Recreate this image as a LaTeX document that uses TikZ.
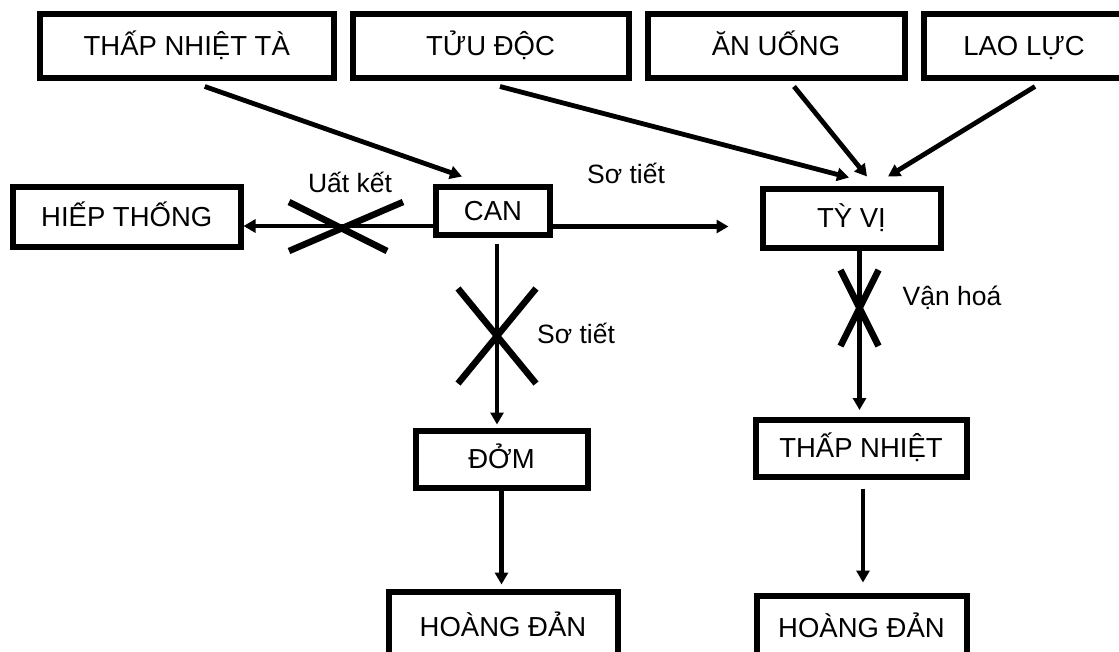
\documentclass[tikz,border=0pt]{standalone}
\usepackage{fontspec}
\setmainfont{Liberation Sans}
\usetikzlibrary{arrows.meta,calc}
\begin{document}
\begin{tikzpicture}[x=1pt,y=-1pt,
  box/.style={draw, line width=6pt, inner sep=0pt, text height=19.5pt, text depth=0pt,
    font=\fontsize{27.5}{32}\selectfont, align=center},
  arr/.style={line width=4.8pt, -{Triangle[length=12pt,width=13pt]}},
  cross/.style={line width=6.5pt},
  lbl/.style={font=\fontsize{26.5}{31}\selectfont, inner sep=0pt, anchor=base}]
\useasboundingbox (0,0) rectangle (1119,651);
\clip (0,0) rectangle (1119,651);
\fill[white] (0,0) rectangle (1119,651);

% top row
\node[box, minimum width=293.5pt, minimum height=64pt] (tnt) at (186.75,46) {THẤP NHIỆT TÀ};
\node[box, minimum width=276pt, minimum height=64pt] (tuu) at (490.5,46) {TỬU ĐỘC};
\node[box, minimum width=257pt, minimum height=64pt] (an) at (776,46) {ĂN UỐNG};
\node[box, minimum width=201pt, minimum height=64pt] (lao) at (1024,46) {LAO LỰC};

% middle row
\node[box, minimum width=227.5pt, minimum height=60pt] (hiep) at (126.75,216.5) {HIẾP THỐNG};
\node[box, minimum width=114pt, minimum height=48pt] (can) at (493,211) {CAN};
\node[box, minimum width=178pt, minimum height=59pt] (ty) at (851.5,218) {TỲ VỊ};

% lower rows
\node[box, minimum width=172pt, minimum height=57pt] (dom) at (501.5,459) {ĐỞM};
\node[box, minimum width=211pt, minimum height=57pt] (tn) at (861,448) {THẤP NHIỆT};
\node[box, minimum width=229pt, minimum height=70pt] (hd1) at (503,626.5) {HOÀNG ĐẢN};
\node[box, minimum width=210pt, minimum height=65pt] (hd2) at (861.5,628) {HOÀNG ĐẢN};

% top arrows
\draw[arr] ($(tnt.south)+(18,5.5)$) -- ($(can.north)+(-31,-7.5)$);
\draw[arr] ($(tuu.south)+(9.5,5.5)$) -- ($(ty.north)+(-2.5,-8)$);
\draw[arr] ($(an.south)+(18,5.5)$) -- ($(ty.north)+(15.5,-9)$);
\draw[arr] ($(lao.south)+(11,5.5)$) -- ($(ty.north)+(36.5,-9)$);

% horizontal arrows from CAN
\coordinate (cL) at ($(can.west)+(0,15)$);
\coordinate (cR) at ($(can.east)+(0,15.5)$);
\draw[arr] (cL) -- (cL -| hiep.east);
\draw[arr, shorten >=31pt] (cR) -- (cR -| ty.west);

% vertical arrows
\coordinate (cB) at ($(can.south)+(4,5.5)$);
\draw[arr, shorten >=3pt] (cB) -- (cB |- dom.north);
\draw[arr, shorten >=4pt] (dom.south) -- (dom.south |- hd1.north);
\coordinate (tB) at ($(ty.south)+(8,0)$);
\draw[arr, shorten >=6.5pt] (tB) -- (tB |- tn.north);
\coordinate (nB) at ($(tn.south)+(2,9)$);
\draw[arr, shorten >=10pt] (nB) -- (nB |- hd2.north);

% crosses
\coordinate (x1) at (341,226);
\coordinate (x2) at (497,336);
\coordinate (x3) at (859.5,308);
\draw[cross] ($(x1)+(-52,-24)$) -- ($(x1)+(46,25)$);
\draw[cross] ($(x1)+(-52,25)$) -- ($(x1)+(62,-24)$);
\draw[cross] ($(x2)+(-39,-47.5)$) -- ($(x2)+(39,47.5)$);
\draw[cross] ($(x2)+(-39,47.5)$) -- ($(x2)+(39,-47.5)$);
\draw[cross] ($(x3)+(-19,-38)$) -- ($(x3)+(19,38)$);
\draw[cross] ($(x3)+(-19,38)$) -- ($(x3)+(19,-38)$);

% labels
\node[lbl] (l1) at (350,192) {Uất kết};
\node[lbl] (l2) at (626,183) {Sơ tiết};
\node[lbl] (l3) at (576,343) {Sơ tiết};
\node[lbl] (l4) at (952,305) {Vận hoá};
\end{tikzpicture}
\end{document}
